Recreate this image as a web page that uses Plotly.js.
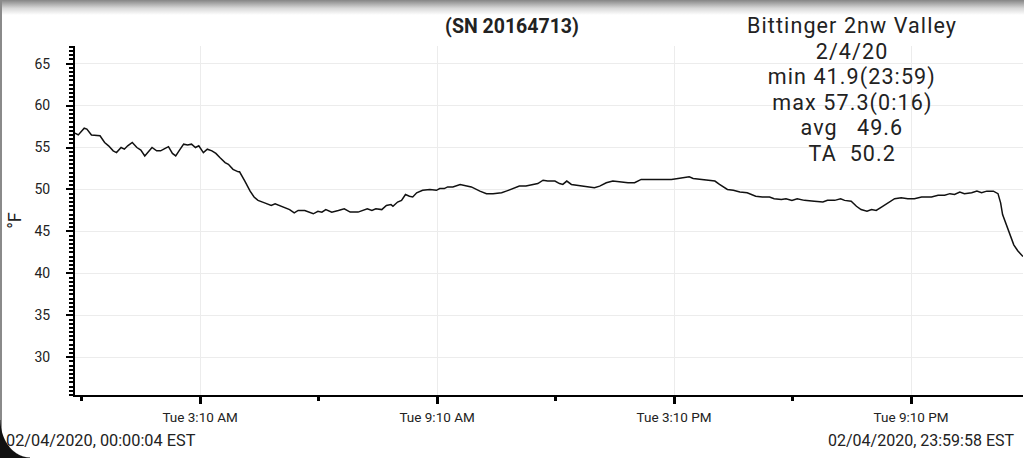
<!DOCTYPE html>
<html>
<head>
<meta charset="utf-8">
<script src="https://cdn.plot.ly/plotly-3.0.1.min.js"></script>
<style>
  html, body { margin: 0; padding: 0; background: #fff; }
  #wrap { position: relative; width: 1024px; height: 458px; overflow: hidden; }
  #chart { width: 1024px; height: 458px; }
  #topshade { position: absolute; left: 0; top: 0; width: 1024px; height: 15px;
    background: linear-gradient(#858585, #d8d8d8 55%, #ffffff); pointer-events: none; }
  #leftedge { position: absolute; left: 0; top: 0; width: 2px; height: 458px; background: #8a8a8a; pointer-events: none; }
  #corner { position: absolute; left: 0; bottom: 0; width: 30px; height: 38px; pointer-events: none;
    background: radial-gradient(ellipse 30px 38px at 30px 0px, rgba(0,0,0,0) 97%, #111 100%); }
  .annotation[data-index="0"] .annotation-text,
  .annotation[data-index="1"] .annotation-text,
  .annotation[data-index="2"] .annotation-text,
  .annotation[data-index="3"] .annotation-text,
  .annotation[data-index="4"] .annotation-text,
  .annotation[data-index="5"] .annotation-text { letter-spacing: 1.1px; }
</style>
</head>
<body>
<div id="wrap">
  <div id="chart"></div>
  <div id="topshade"></div>
  <div id="leftedge"></div>
  <div id="corner"></div>
</div>
<script>
// Minutes after midnight, 2020-02-04 (EST)
const minutesOfDay = [
  0.07,5,14,18,25,38,45,51,58,63,
  70,75,80,87,94,100,106,112,117,124,
  130,137,142,148,153,158,165,171,177,183,
  188,195,201,208,214,220,228,233,240,248,
  250,258,266,272,278,288,298,304,311,319,
  326,333,339,349,355,362,369,375,381,390,
  400,409,418,430,444,451,457,466,473,480,
  483,490,496,502,508,513,519,528,539,549,
  554,561,566,574,585,592,602,615,625,635,
  648,655,665,675,685,696,703,711,718,729,
  736,741,747,754,764,777,789,797,807,817,
  827,840,850,860,873,883,893,906,916,923,
  933,939,954,967,972,979,991,1000,1010,1021,
  1034,1044,1055,1062,1073,1080,1089,1097,1108,1123,
  1136,1143,1154,1163,1169,1179,1187,1194,1203,1210,
  1217,1225,1235,1245,1255,1265,1275,1286,1301,1311,
  1321,1329,1336,1344,1351,1362,1370,1377,1385,1395,
  1402,1406,1409,1416,1421,1426,1432,1439.97
];
// Temperature (°F)
const tempF = [
  56.7,56.5,57.3,57.2,56.5,56.4,55.6,55.2,54.6,54.4,
  55.0,54.8,55.2,55.6,55.0,54.7,54.0,54.6,55.0,54.6,
  54.6,54.9,55.1,54.3,54.0,54.6,55.4,55.3,55.4,55.0,
  55.2,54.4,54.8,54.6,54.3,53.8,53.2,53.0,52.4,52.1,
  52.1,51.0,49.8,49.1,48.7,48.4,48.1,48.3,48.1,47.8,
  47.6,47.2,47.5,47.5,47.3,47.1,47.4,47.3,47.6,47.3,
  47.5,47.7,47.3,47.3,47.7,47.5,47.7,47.6,48.1,48.2,
  48.0,48.5,48.7,49.4,49.2,49.1,49.6,49.9,50.0,49.9,
  50.1,50.1,50.3,50.3,50.6,50.5,50.3,49.8,49.5,49.5,
  49.6,49.8,50.1,50.4,50.4,50.6,50.7,51.1,51.0,51.0,
  50.7,50.6,51.0,50.6,50.5,50.3,50.2,50.4,50.8,51.0,
  50.9,50.8,50.8,51.2,51.2,51.2,51.2,51.2,51.3,51.4,
  51.5,51.3,51.2,51.1,51.0,50.6,50.0,49.9,49.7,49.6,
  49.2,49.1,49.1,48.9,48.8,48.9,48.7,48.9,48.7,48.6,
  48.5,48.7,48.7,48.9,48.7,48.6,48.0,47.6,47.4,47.6,
  47.5,47.9,48.4,48.9,49.0,48.9,48.9,49.1,49.1,49.3,
  49.3,49.5,49.4,49.7,49.5,49.6,49.8,49.6,49.8,49.8,
  49.5,48.4,47.0,45.6,44.6,43.4,42.7,42.0
];
const xTickVals = ['2020-02-04 03:10', '2020-02-04 09:10', '2020-02-04 15:10', '2020-02-04 21:10'];
const xTickText = ['Tue 3:10 AM', 'Tue 9:10 AM', 'Tue 3:10 PM', 'Tue 9:10 PM'];
const xMinorVals = ['2020-02-04 00:10', '2020-02-04 06:10', '2020-02-04 12:10', '2020-02-04 18:10'];
const yTickVals = [30, 35, 40, 45, 50, 55, 60, 65];
const titleText = '(SN 20164713)';
const statsLines = ['Bittinger 2nw Valley', '2/4/20', 'min 41.9(23:59)', 'max 57.3(0:16)', 'avg&nbsp;&nbsp; 49.6', 'TA&nbsp; 50.2'];
const startLabel = '02/04/2020, 00:00:04 EST';
const endLabel = '02/04/2020, 23:59:58 EST';

function pad(n) { return (n < 10 ? '0' : '') + n; }
function toDateString(min) {
  const totalSec = Math.round(min * 60);
  const h = Math.floor(totalSec / 3600);
  const m = Math.floor((totalSec % 3600) / 60);
  const s = totalSec % 60;
  return '2020-02-04 ' + pad(h) + ':' + pad(m) + ':' + pad(s);
}
const xDates = minutesOfDay.map(toDateString);

const FONT = 'Roboto, "Noto Sans", Arial, sans-serif';
const trace = {
  x: xDates, y: tempF, type: 'scatter', mode: 'lines',
  line: { color: '#111111', width: 1.5 }, hoverinfo: 'x+y'
};

// plot area in pixels: left 75, right 1023, top 46, bottom 395
const PL = 75, PW = 948, PB = 395, PH = 349;
const px2x = function (px) { return (px - PL) / PW; };
const px2y = function (py) { return (PB - py) / PH; };

const annotations = statsLines.map(function (line, i) {
  return {
    text: line, xref: 'paper', yref: 'paper',
    x: px2x(852), y: px2y(26 + i * 25.5),
    xanchor: 'center', yanchor: 'middle', align: 'center', showarrow: false,
    borderpad: 0,
    font: { family: FONT, size: 21.5, color: '#222' }
  };
});
annotations.push({
  text: startLabel, xref: 'paper', yref: 'paper',
  x: px2x(4), y: px2y(440),
  xanchor: 'left', yanchor: 'middle', showarrow: false,
  font: { family: FONT, size: 16.3, color: '#222' }
});
annotations.push({
  text: endLabel, xref: 'paper', yref: 'paper',
  x: px2x(1017), y: px2y(440),
  xanchor: 'right', yanchor: 'middle', showarrow: false,
  font: { family: FONT, size: 16, color: '#222' }
});

const layout = {
  width: 1024, height: 458,
  margin: { l: 75, r: 1, t: 46, b: 63 },
  paper_bgcolor: '#ffffff', plot_bgcolor: '#ffffff',
  font: { family: FONT, color: '#222222', size: 13 },
  showlegend: false,
  title: {
    text: '<b>' + titleText + '</b>',
    font: { family: FONT, size: 19.5, color: '#222222' },
    xref: 'container', x: 0.5, xanchor: 'center',
    yref: 'container', y: 1 - 26 / 458, yanchor: 'middle'
  },
  xaxis: {
    type: 'date',
    range: ['2020-02-04 00:00', '2020-02-05 00:00'],
    tickmode: 'array', tickvals: xTickVals, ticktext: xTickText,
    ticks: 'outside', ticklen: 7, tickwidth: 2.5, tickcolor: '#000',
    showline: true, linecolor: '#000', linewidth: 2,
    showgrid: true, gridcolor: '#ececec', gridwidth: 1,
    zeroline: false,
    tickfont: { family: FONT, size: 13.5, color: '#222' },
    ticklabelstandoff: 2,
    minor: { tickmode: 'array', tickvals: xMinorVals, ticks: 'outside', ticklen: 4, tickwidth: 2.5, tickcolor: '#000', showgrid: false }
  },
  yaxis: {
    range: [25.5, 67.1],
    tickmode: 'array', tickvals: yTickVals,
    ticks: 'outside', ticklen: 7, tickwidth: 2, tickcolor: '#000',
    showline: true, linecolor: '#000', linewidth: 2,
    showgrid: true, gridcolor: '#ececec', gridwidth: 1,
    zeroline: false,
    tickfont: { family: FONT, size: 14, color: '#222' },
    ticklabelstandoff: 13,
    minor: { tickmode: 'linear', tick0: 25.5, dtick: 0.5, ticks: 'outside', ticklen: 4, tickwidth: 2, tickcolor: '#000', showgrid: false },
    title: { text: '°F', font: { family: FONT, size: 18, color: '#222' }, standoff: 8 }
  },
  annotations: annotations
};

Plotly.newPlot('chart', [trace], layout, { displayModeBar: false });
</script>
</body>
</html>
